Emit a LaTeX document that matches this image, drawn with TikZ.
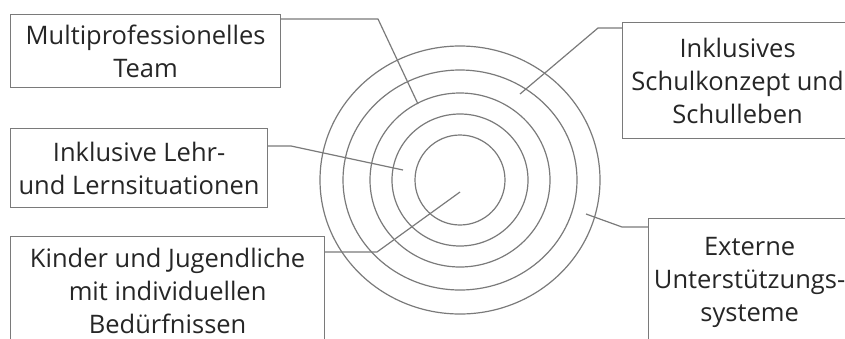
\documentclass[tikz,border=0pt]{standalone}
\usepackage{fontspec}
\setmainfont{Open Sans}
\usetikzlibrary{positioning}
\definecolor{linegray}{gray}{0.48}
\definecolor{textgray}{gray}{0.15}
\tikzset{
  labelbox/.style = {draw=linegray, line width=1.2pt, anchor=north west,
                     align=center, inner sep=0pt, text=textgray,
                     font=\fontsize{25.5}{33}\selectfont},
  ring/.style     = {draw=linegray, line width=1.2pt},
  link/.style     = {draw=linegray, line width=1.2pt, line join=round}
}
\begin{document}
\begin{tikzpicture}[x=1pt, y=-1pt]
  \useasboundingbox (0,0) rectangle (845,338);
  \clip (0,0) rectangle (845,338);

  % rings
  \coordinate (mid) at (460,180);
  \foreach \rx/\ry in {45/45, 68/66, 90/87, 117/110, 140/134}
    \draw[ring] (mid) ellipse [x radius=\rx pt, y radius=\ry pt];

  % label boxes
  \node[labelbox, minimum width=270pt, minimum height=73pt]  (team)   at (10,14)   {Multiprofessionelles\\Team};
  \node[labelbox, minimum width=257pt, minimum height=79pt]  (lehr)   at (10,128)  {Inklusive Lehr-\\und Lernsituationen};
  \node[labelbox, minimum width=314pt, minimum height=108pt] (kinder) at (10,236)  {Kinder und Jugendliche\\mit individuellen\\Bedürfnissen};
  \node[labelbox, minimum width=230pt, minimum height=116pt] (schule) at (622,22)  {Inklusives\\Schulkonzept und\\Schulleben};
  \node[labelbox, minimum width=202pt, minimum height=128pt] (extern) at (648,218) {Externe\\Unterstützungs-\\systeme};

  % ends of the pointers
  \coordinate (pteam)   at (418,104);
  \coordinate (plehr)   at (403,170);
  \coordinate (pkinder) at (460,192);
  \coordinate (pschule) at (520,94);
  \coordinate (pextern) at (586,214);

  \draw[link] ([yshift=-5pt]team.north east) -- (378,19) -- (pteam);
  \draw[link] ([yshift=-18pt]lehr.north east) -- (291,146) -- (plehr);
  \draw[link] ([yshift=-16pt]kinder.north east) -- (377,252) -- (pkinder);
  \draw[link] ([yshift=-6pt]schule.north west) -- (598,28) -- (pschule);
  \draw[link] ([yshift=-9pt]extern.north west) -- (622,227) -- (pextern);
\end{tikzpicture}
\end{document}
